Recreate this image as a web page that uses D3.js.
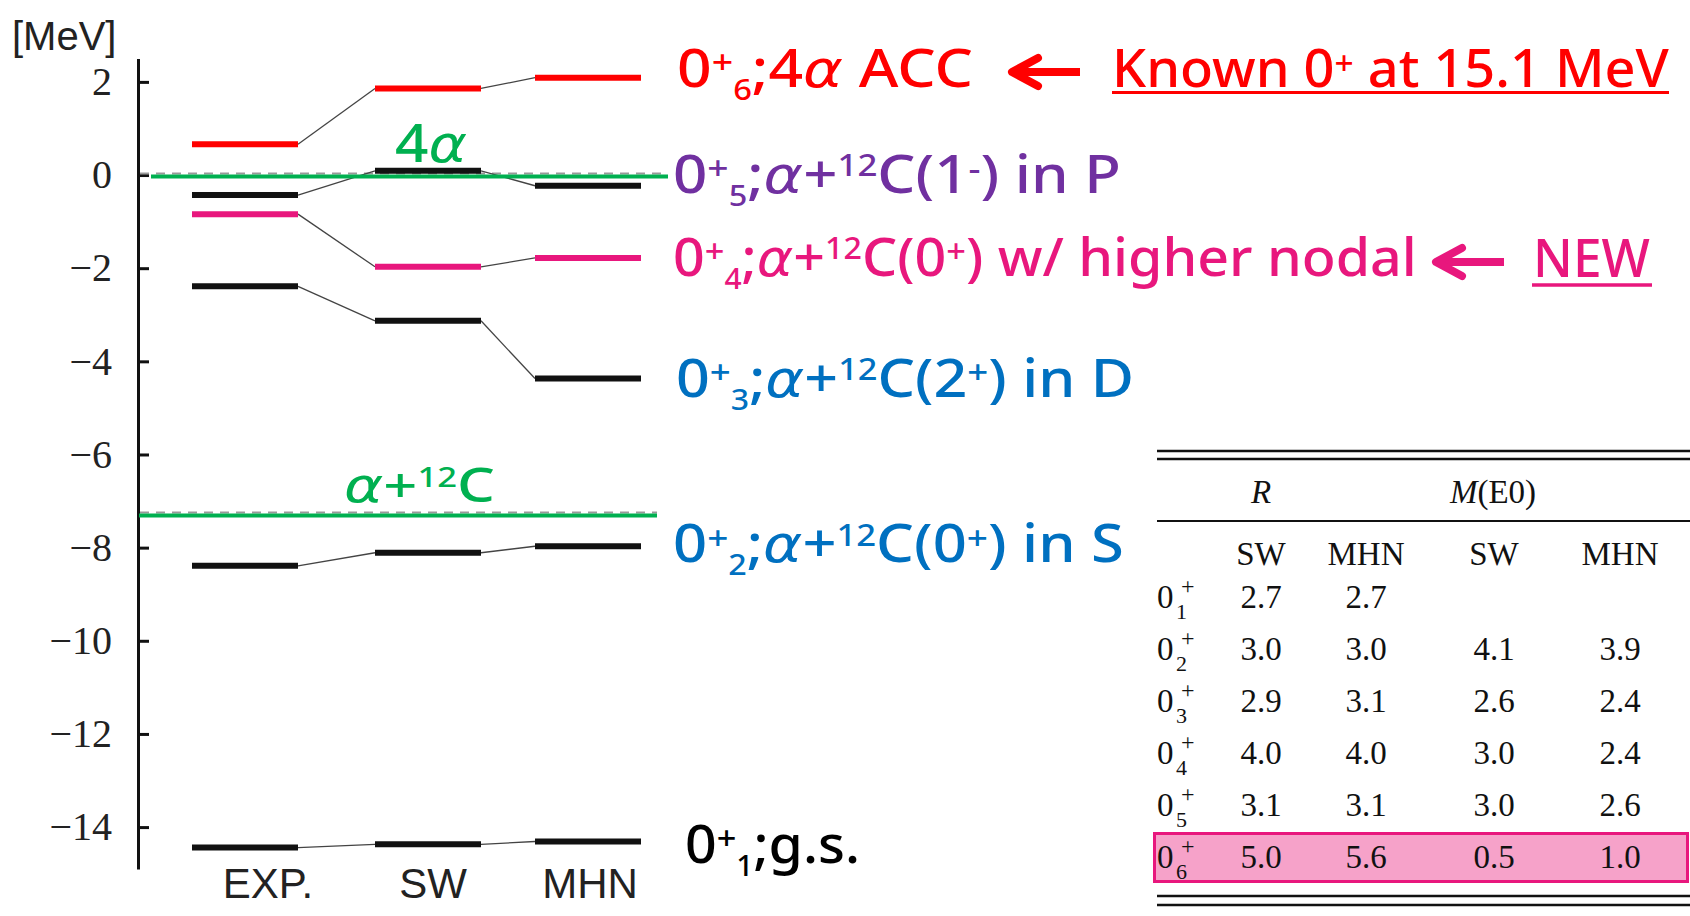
<!DOCTYPE html>
<html>
<head>
<meta charset="utf-8">
<script src="https://cdn.jsdelivr.net/npm/d3@7"></script>
<style>
  body { margin: 0; background: #fff; }
  text { white-space: pre; }
</style>
</head>
<body>
<svg width="1690" height="916"></svg>
<script>
// level energies relative to the 4 alpha threshold, MeV
var models = ["EXP.", "SW", "MHN"];
var expE = [-14.44, -8.39, -2.39, -0.84, -0.43, 0.66];
var swE  = [-14.37, -8.11, -3.13, -1.97, 0.09, 1.86];
var mhnE = [-14.31, -7.97, -4.37, -1.78, -0.23, 2.09];

var thresholdE = [0, -7.28];
var thresholdNames = [
  [["4"], ["α", "it"]],
  [["α", "it"], ["+"], ["12", "sup"], ["C"]]
];

var yTicks = [2, 0, -2, -4, -6, -8, -10, -12, -14];

var stateLabels = [
  [["0"], ["+", "p"], ["1", "sub"], [";g.s."]],
  [["0"], ["+", "p"], ["2", "sub"], [";"], ["α", "it"], ["+"], ["12", "sup"], ["C(0"], ["+", "p"], [") in S"]],
  [["0"], ["+", "p"], ["3", "sub"], [";"], ["α", "it"], ["+"], ["12", "sup"], ["C(2"], ["+", "p"], [") in D"]],
  [["0"], ["+", "p"], ["4", "sub"], [";"], ["α", "it"], ["+"], ["12", "sup"], ["C(0"], ["+", "p"], [") w/ higher nodal"]],
  [["0"], ["+", "p"], ["5", "sub"], [";"], ["α", "it"], ["+"], ["12", "sup"], ["C(1"], ["-", "p"], [") in P"]],
  [["0"], ["+", "p"], ["6", "sub"], [";4"], ["α", "it"], [" ACC"]]
];

// table: radius R and monopole M(E0)
var tableCols = ["SW", "MHN", "SW", "MHN"];
var tableRows = ["1", "2", "3", "4", "5", "6"];
var rSW   = ["2.7", "3.0", "2.9", "4.0", "3.1", "5.0"];
var rMHN  = ["2.7", "3.0", "3.1", "4.0", "3.1", "5.6"];
var meSW  = ["", "4.1", "2.6", "3.0", "3.0", "0.5"];
var meMHN = ["", "3.9", "2.4", "2.4", "2.6", "1.0"];

// ---- layout / style ----
var levelColor = ["#111", "#111", "#111", "#e8177d", "#111", "#ff0000"];
var labelColor = ["#000", "#0070c0", "#0070c0", "#e8177d", "#7030a0", "#ff0000"];
var labelX = [685, 673, 676, 673, 673, 677];
var labelW = [175, 451, 458, 744, 448, 296];
var labelDy = [21, 16, 18, 18, 7, 9];
var green = "#00b050";

var svg = d3.select("svg");

var y = d3.scaleLinear().domain([-14.9, 2.5]).range([869, 58.6]);
var x = d3.scaleOrdinal().domain(models).range([245, 428, 588]);
var halfBar = 53;

function rich(parent, parts, size, x0, yb, width, color) {
  var t = parent.append("text")
    .attr("x", 0).attr("y", 0)
    .attr("fill", color)
    .style("font-family", "'Noto Sans', sans-serif")
    .style("font-weight", 500)
    .style("font-size", size + "px");
  var cur = 0;
  parts.forEach(function (p) {
    var fs = size, off = 0;
    if (p[1] == "p") { fs = size * 0.62; off = -size * 0.24; }
    else if (p[1] == "sup") { fs = size * 0.58; off = -size * 0.32; }
    else if (p[1] == "sub") { fs = size * 0.54; off = size * 0.25; }
    var ts = t.append("tspan").attr("dy", off - cur).style("font-size", fs + "px").text(p[0]);
    if (p[1] == "it") ts.style("font-style", "italic").style("font-family", "'DejaVu Sans', sans-serif");
    cur = off;
  });
  var bb = t.node().getBBox();
  var sx = width / bb.width;
  t.attr("transform", "translate(" + (x0 - bb.x * sx) + "," + yb + ") scale(" + sx + ",1)");
  return t;
}

// y axis
var yAxis = d3.axisLeft(y)
  .tickValues(yTicks)
  .tickSize(-11)
  .tickSizeOuter(0)
  .tickPadding(26)
  .tickFormat(function (d) { return d < 0 ? "\u2212" + Math.abs(d) : d; });

var ax = svg.append("g").attr("transform", "translate(138,0)").call(yAxis);
ax.select(".domain").attr("stroke", "#111").attr("stroke-width", 3);
ax.selectAll(".tick line").attr("stroke", "#111").attr("stroke-width", 3);
ax.selectAll(".tick text")
  .attr("fill", "#222")
  .style("font-family", "'Liberation Serif', serif")
  .style("font-size", "40px");

svg.append("text")
  .attr("x", 12).attr("y", 50)
  .attr("fill", "#222")
  .style("font-family", "'Liberation Sans', Arial, sans-serif")
  .style("font-size", "40px")
  .text("[MeV]");

// category labels
var catShift = [23, 5, 2];
svg.selectAll(".cat")
  .data(models)
  .enter()
  .append("text")
  .attr("x", function (d, i) { return x(d) + catShift[i]; })
  .attr("y", 898)
  .attr("text-anchor", "middle")
  .attr("fill", "#222")
  .style("font-family", "'Liberation Sans', Arial, sans-serif")
  .style("font-size", "42px")
  .text(function (d) { return d; });

// gray dashed thresholds
var thrX1 = [151, 139], thrX2 = [668, 657], dashX2 = [665, 657];
thresholdE.forEach(function (e, i) {
  svg.append("line")
    .attr("x1", 140).attr("x2", dashX2[i])
    .attr("y1", y(e) - 1.5).attr("y2", y(e) - 1.5)
    .attr("stroke", "#999").attr("stroke-width", 2)
    .attr("stroke-dasharray", "9,7");
});

// connecting lines and levels
var series = [expE, swE, mhnE];
for (var s = 0; s < expE.length; s++) {
  for (var m = 0; m < 2; m++) {
    svg.append("line")
      .attr("x1", x(models[m]) + halfBar)
      .attr("y1", y(series[m][s]))
      .attr("x2", x(models[m + 1]) - halfBar)
      .attr("y2", y(series[m + 1][s]))
      .attr("stroke", "#444")
      .attr("stroke-width", 1.3);
  }
  svg.selectAll(".lv" + s)
    .data(models)
    .enter()
    .append("line")
    .attr("x1", function (d) { return x(d) - halfBar; })
    .attr("x2", function (d) { return x(d) + halfBar; })
    .attr("y1", function (d, i) { return y(series[i][s]); })
    .attr("y2", function (d, i) { return y(series[i][s]); })
    .attr("stroke", levelColor[s])
    .attr("stroke-width", 6);
}

// green thresholds
var thrLabelX = [395, 344], thrLabelW = [72, 151], thrLabelDy = [-13, -12], thrSize = [52, 48];
thresholdE.forEach(function (e, i) {
  svg.append("line")
    .attr("x1", thrX1[i]).attr("x2", thrX2[i])
    .attr("y1", y(e) + 1.5).attr("y2", y(e) + 1.5)
    .attr("stroke", green).attr("stroke-width", 4);
  rich(svg, thresholdNames[i], thrSize[i], thrLabelX[i], y(e) + thrLabelDy[i], thrLabelW[i], green);
});

// state labels next to the MHN column
stateLabels.forEach(function (parts, i) {
  rich(svg, parts, 52, labelX[i], y(mhnE[i]) + labelDy[i], labelW[i], labelColor[i]);
});

// annotations
function arrow(tipX, tipY, endX, color) {
  var g = svg.append("g").attr("stroke", color).attr("stroke-width", 8)
    .attr("stroke-linecap", "round").attr("fill", "none");
  g.append("line").attr("x1", tipX + 4).attr("y1", tipY).attr("x2", endX).attr("y2", tipY).attr("stroke-linecap", "butt");
  g.append("path").attr("d", "M" + (tipX + 28) + "," + (tipY - 14) + "L" + (tipX + 2) + "," + tipY + "L" + (tipX + 28) + "," + (tipY + 14))
    .attr("stroke-linejoin", "round");
}
arrow(1010, 72, 1080, "#ff0000");
arrow(1434, 262, 1504, "#e8177d");

rich(svg, [["Known 0"], ["+", "p"], [" at 15.1 MeV"]], 52, 1112, 87, 557, "#ff0000");
svg.append("line").attr("x1", 1112).attr("x2", 1669).attr("y1", 92.5).attr("y2", 92.5)
  .attr("stroke", "#ff0000").attr("stroke-width", 3);
rich(svg, [["NEW"]], 52, 1533, 277, 117, "#e8177d");
svg.append("line").attr("x1", 1532).attr("x2", 1652).attr("y1", 285).attr("y2", 285)
  .attr("stroke", "#e8177d").attr("stroke-width", 3.5);

// table
var tb = svg.append("g")
  .style("font-family", "'Liberation Serif', 'Times New Roman', serif")
  .attr("fill", "#111");
var colX = [1261, 1366, 1494, 1620];
var rowY0 = 608, rowStep = 52;

tb.append("rect")
  .attr("x", 1154.5).attr("y", rowY0 + 5 * rowStep - 34.5)
  .attr("width", 533).attr("height", 48)
  .attr("fill", "#f6a2c9").attr("stroke", "#e8177d").attr("stroke-width", 3);

[451, 459, 521, 896, 905].forEach(function (ry, i) {
  tb.append("line").attr("x1", 1157).attr("x2", 1690).attr("y1", ry).attr("y2", ry)
    .attr("stroke", "#111").attr("stroke-width", i == 2 ? 2 : 2.5);
});

tb.append("text").attr("x", colX[0]).attr("y", 503).attr("text-anchor", "middle")
  .style("font-size", "33px").style("font-style", "italic").text("R");
var me = tb.append("text").attr("x", 1493).attr("y", 503).attr("text-anchor", "middle").style("font-size", "33px");
me.append("tspan").style("font-style", "italic").text("M");
me.append("tspan").text("(E0)");

tb.selectAll(".colh")
  .data(tableCols)
  .enter()
  .append("text")
  .attr("x", function (d, i) { return colX[i]; })
  .attr("y", 565)
  .attr("text-anchor", "middle")
  .style("font-size", "33px")
  .text(function (d) { return d; });

var cols = [rSW, rMHN, meSW, meMHN];
tableRows.forEach(function (r, i) {
  var ry = rowY0 + i * rowStep;
  var lab = tb.append("text").attr("x", 1157).attr("y", ry).style("font-size", "33px");
  lab.append("tspan").text("0");
  lab.append("tspan").attr("x", 1181).attr("dy", -14).style("font-size", "24px").text("+");
  lab.append("tspan").attr("x", 1176).attr("dy", 25).style("font-size", "22px").text(r);
  cols.forEach(function (c, j) {
    tb.append("text").attr("x", colX[j]).attr("y", ry)
      .attr("text-anchor", "middle").style("font-size", "33px").text(c[i]);
  });
});
</script>
</body>
</html>
